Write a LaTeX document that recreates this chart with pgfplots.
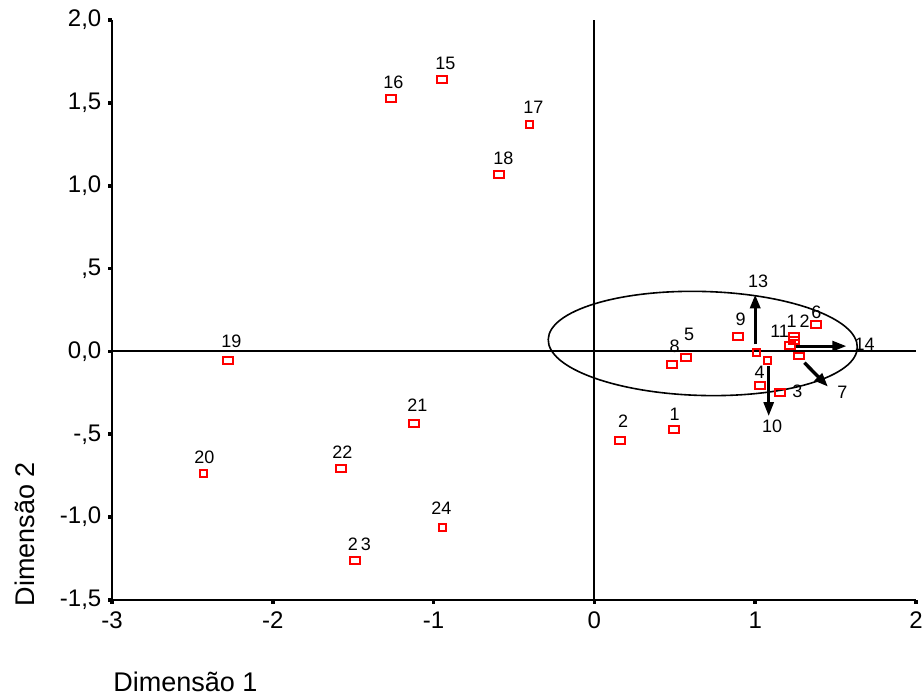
\documentclass[border=0pt]{standalone}
\usepackage{fontspec}
\setmainfont{Liberation Sans}
\usepackage{pgfplots}
\pgfplotsset{compat=1.18}
\usetikzlibrary{arrows.meta}
\pgfdeclareplotmark{rect}{\pgfpathrectangle{\pgfpoint{-2.5pt}{-1.7pt}}{\pgfpoint{5.0pt}{3.4pt}}\pgfusepathqstroke}
\pgfdeclareplotmark{sq}{\pgfpathrectangle{\pgfpoint{-1.75pt}{-1.75pt}}{\pgfpoint{3.5pt}{3.5pt}}\pgfusepathqstroke}
\begin{document}
\begin{tikzpicture}
\useasboundingbox (-56pt,-48pt) rectangle (406pt,300pt);
\begin{axis}[
  scale only axis, width=402pt, height=290pt,
  xmin=-3, xmax=2, ymin=-1.5, ymax=2,
  axis x line*=bottom, axis y line*=left,
  axis line style={line width=1pt, -},
  xtick={-3,-2,-1,0,1,2}, xticklabels={-3,-2,-1,0,1,2},
  ytick={-1.5,-1,-0.5,0,0.5,1,1.5,2},
  yticklabels={{-1,5},{-1,0},{-,5},{0,0},{,5},{1,0},{1,5},{2,0}},
  tick align=outside, major tick length=1.8pt,
  tick style={line width=1.8pt, black},
  ticklabel style={font=\fontsize{12}{14}\selectfont},
  xticklabel style={yshift=-0.5pt},
  clip=false,
]
\draw[line width=1pt] (axis cs:-3,0) -- (axis cs:2,0);
\draw[line width=1pt] (axis cs:0,-1.5) -- (axis cs:0,2);
\draw[line width=0.8pt] (axis cs:0.674,0.048) ellipse [x radius=77.3pt, y radius=26pt, rotate=-1.5];
% points (rectangular boxes)
\addplot[only marks, mark=rect, red, mark options={line width=1pt}] coordinates {
 (-0.945,1.641) (-1.262,1.527) (-0.591,1.068) (-2.276,-0.054)
 (-1.119,-0.435) (-1.573,-0.706) (-1.486,-1.261)
 (0.498,-0.471) (0.162,-0.537) (0.485,-0.078) (0.572,-0.036) (0.896,0.091)
 (1.032,-0.205) (1.157,-0.247) (1.219,0.036) (1.244,0.090) (1.244,0.066)
 (1.381,0.163) (1.275,-0.028)
};
% points (square boxes)
\addplot[only marks, mark=sq, red, mark options={line width=1pt}] coordinates {
 (-0.404,1.370) (-2.432,-0.736) (-0.945,-1.062) (1.007,-0.006) (1.076,-0.054)
};
% arrows
\draw[line width=1.7pt, -{Triangle[length=7pt,width=5pt]}] (axis cs:1.0,0.042) -- (axis cs:1.0,0.344);
\draw[line width=1.4pt, -{Triangle[length=7pt,width=5pt]}] (axis cs:1.246,0.032) -- (axis cs:1.567,0.032);
\draw[line width=1.4pt, -{Triangle[length=7pt,width=5pt]}] (axis cs:1.084,-0.089) -- (axis cs:1.084,-0.390);
\draw[line width=1.7pt, -{Triangle[length=7pt,width=5pt]}] (axis cs:1.306,-0.068) -- (axis cs:1.453,-0.213);
% labels
\begin{scope}[every node/.style={font=\fontsize{9}{10}\selectfont, inner sep=0pt}]
\node at (axis cs:-0.927,1.738) {15};
\node at (axis cs:-1.250,1.623) {16};
\node at (axis cs:-0.379,1.473) {17};
\node at (axis cs:-0.566,1.165) {18};
\node at (axis cs:-2.257,0.060) {19};
\node at (axis cs:-2.425,-0.640) {20};
\node at (axis cs:-1.101,-0.326) {21};
\node at (axis cs:-1.567,-0.610) {22};
\node at (axis cs:-1.461,-1.165) {2\,3};
\node at (axis cs:-0.951,-0.947) {24};
\node at (axis cs:0.499,-0.380) {1};
\node at (axis cs:0.178,-0.424) {2};
\node at (axis cs:0.499,0.028) {8};
\node at (axis cs:0.589,0.103) {5};
\node at (axis cs:0.910,0.193) {9};
\node at (axis cs:1.018,0.424) {13};
\node at (axis cs:1.152,0.123) {11};
\node at (axis cs:1.267,0.183) {1\,2};
\node at (axis cs:1.381,0.235) {6};
\node at (axis cs:1.681,0.042) {14};
\node at (axis cs:1.028,-0.129) {4};
\node at (axis cs:1.262,-0.243) {3};
\node at (axis cs:1.542,-0.249) {7};
\node at (axis cs:1.105,-0.451) {10};
\end{scope}
\end{axis}
\node[rotate=90, font=\fontsize{13.5}{15}\selectfont] at (-43.5pt,33pt) {Dimensão 2};
\node[anchor=west, inner sep=0pt, font=\fontsize{13.5}{15}\selectfont] at (0.5pt,-41pt) {Dimensão 1};
\end{tikzpicture}
\end{document}
